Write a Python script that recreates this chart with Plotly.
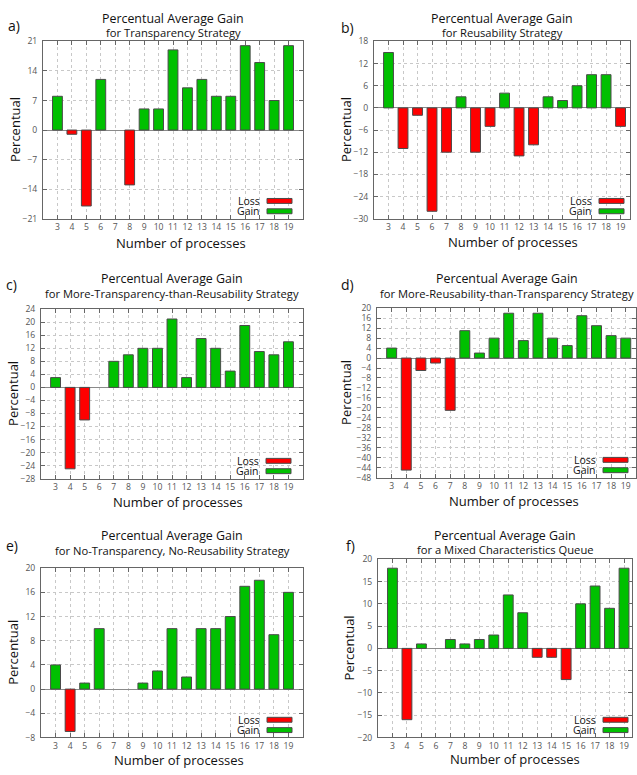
import plotly.graph_objects as go

# ---------------- data ----------------
processes = list(range(3, 20))
tick_labels = [str(p) for p in processes]

gain_transparency = [8, -1, -18, 12, 0, -13, 5, 5, 19, 10, 12, 8, 8, 20, 16, 7, 20]
gain_reusability = [15, -11, -2, -28, -12, 3, -12, -5, 4, -13, -10, 3, 2, 6, 9, 9, -5]
gain_more_transp = [3, -25, -10, 0, 8, 10, 12, 12, 21, 3, 15, 12, 5, 19, 11, 10, 14]
gain_more_reus = [4, -45, -5, -2, -21, 11, 2, 8, 18, 7, 18, 8, 5, 17, 13, 9, 8]
gain_no_no = [4, -7, 1, 10, 0, 0, 1, 3, 10, 2, 10, 10, 12, 17, 18, 9, 16]
gain_mixed = [18, -16, 1, 0, 2, 1, 2, 3, 12, 8, -2, -2, -7, 10, 14, 9, 18]

series_names = ["Loss", "Gain"]

# ---------------- layout helpers ----------------
W, H = 637, 775
FONT = "Open Sans"
RED = "#ff0000"
GREEN = "#00c000"
EDGE = "#4a4a4a"

panels = [
    dict(letter="a)", vals=gain_transparency, box=(43, 36, 303, 216), xr=(2, 20), yr=(-21, 21), dt=7,
         title=["Percentual Average Gain", "for Transparency Strategy"], ty=(13, 27),
         lab=(14, 20), ytx=15, xt=(181, 241), lgap=11),
    dict(letter="b)", vals=gain_reusability, box=(374, 36, 630, 216), xr=(2, 19.65), yr=(-30, 18), dt=6,
         title=["Percentual Average Gain", "for Reusability Strategy"], ty=(13, 27),
         lab=(347, 22), ytx=346, xt=(513, 240), lgap=6),
    dict(letter="c)", vals=gain_more_transp, box=(41, 308, 303, 480), xr=(2, 20), yr=(-28, 24), dt=4,
         title=["Percentual Average Gain", "for More-Transparency-than-Reusability Strategy"], ty=(277, 292),
         lab=(12, 283), ytx=13, xt=(178, 504), lgap=12),
    dict(letter="d)", vals=gain_more_reus, box=(377, 307, 636, 479), xr=(2, 19.7), yr=(-48, 20), dt=4,
         title=["Percentual Average Gain", "for More-Reusability-than-Transparency Strategy"], ty=(277, 292),
         lab=(347, 283), ytx=346, xt=(514, 503), lgap=8),
    dict(letter="e)", vals=gain_no_no, box=(41, 571, 303, 743), xr=(2, 20), yr=(-8, 20), dt=4,
         title=["Percentual Average Gain", "for No-Transparency, No-Reusability Strategy"], ty=(538, 553),
         lab=(12, 548), ytx=13, xt=(179, 766), lgap=11),
    dict(letter="f)", vals=gain_mixed, box=(378, 562, 632, 743), xr=(2, 19.55), yr=(-20, 20), dt=5,
         title=["Percentual Average Gain", "for a Mixed Characteristics Queue"], ty=(538, 552),
         lab=(350, 548), ytx=349, xt=(515, 765), lgap=4),
]
title_sizes = (12.4, 11.2)


def px(x):
    return x / W


def py(y):
    return 1 - y / H


fig = go.Figure()
annotations = []
shapes = []

for i, p in enumerate(panels):
    n = i + 1
    xa = "x" if n == 1 else f"x{n}"
    ya = "y" if n == 1 else f"y{n}"
    vals = p["vals"]
    loss = [v if v < 0 else None for v in vals]
    gain = [v if v > 0 else None for v in vals]
    for name, ys, col in ((series_names[0], loss, RED), (series_names[1], gain, GREEN)):
        fig.add_trace(go.Bar(
            x=processes, y=ys, name=name, xaxis=xa, yaxis=ya, width=0.68,
            marker=dict(color=col, line=dict(color=EDGE, width=1)),
            showlegend=False, hoverinfo="x+y",
        ))

    x0, y0, x1, y1 = p["box"]
    common = dict(showline=True, mirror="allticks", linecolor="#666", linewidth=1,
                  ticks="inside", ticklen=4, tickcolor="#666",
                  showgrid=True, gridcolor="#c8c8c8", griddash="dot", gridwidth=1,
                  tickfont=dict(family=FONT, size=8.6, color="#555"))
    fig.layout[f"xaxis{'' if n == 1 else n}"] = dict(
        domain=[px(x0), px(x1)], anchor=ya, range=list(p["xr"]),
        tickmode="array", tickvals=processes, ticktext=tick_labels,
        zeroline=False, ticklabelstandoff=0, **common)
    fig.layout[f"yaxis{'' if n == 1 else n}"] = dict(
        domain=[py(y1), py(y0)], anchor=xa, range=list(p["yr"]),
        tickmode="linear", tick0=p["yr"][0], dtick=p["dt"],
        zeroline=True, zerolinecolor="#8a8a8a", zerolinewidth=1, ticklabelstandoff=3, **common)

    cx = (x0 + x1) / 2
    for line, yy, fs in zip(p["title"], p["ty"], title_sizes):
        annotations.append(dict(text=line, x=px(cx), y=py(yy), xref="paper", yref="paper",
                                showarrow=False, xanchor="center", yanchor="middle",
                                font=dict(family=FONT, size=fs, color="#111")))
    annotations.append(dict(text=p["letter"], x=px(p["lab"][0]), y=py(p["lab"][1]), xref="paper", yref="paper",
                            showarrow=False, xanchor="center", yanchor="middle",
                            font=dict(family=FONT, size=14, color="#111")))
    annotations.append(dict(text="Percentual", x=px(p["ytx"]), y=py((y0 + y1) / 2), xref="paper", yref="paper",
                            showarrow=False, xanchor="center", yanchor="middle", textangle=-90,
                            font=dict(family=FONT, size=13, color="#111")))
    annotations.append(dict(text="Number of processes", x=px(p["xt"][0]), y=py(p["xt"][1]),
                            xref="paper", yref="paper", showarrow=False, xanchor="center", yanchor="middle",
                            font=dict(family=FONT, size=13, color="#111")))

    # legend (text left of swatch, bottom-right inside the plot)
    sw_r = x1 - p["lgap"]
    sw_l = sw_r - 25
    for name, col, off in ((series_names[0], RED, 18), (series_names[1], GREEN, 7.5)):
        yc = y1 - off
        shapes.append(dict(type="rect", xref="paper", yref="paper",
                           x0=px(sw_l), x1=px(sw_r), y0=py(yc + 2.5), y1=py(yc - 2.5),
                           fillcolor=col, line=dict(color=EDGE, width=1)))
        annotations.append(dict(text=name, x=px(sw_l - 5), y=py(yc), xref="paper", yref="paper",
                                showarrow=False, xanchor="right", yanchor="middle",
                                font=dict(family=FONT, size=10.5, color="#111")))

fig.update_layout(
    width=W, height=H, margin=dict(l=0, r=0, t=0, b=0),
    paper_bgcolor="white", plot_bgcolor="white",
    annotations=annotations, shapes=shapes, barmode="overlay",
)

fig.write_html("out.html", config={"displayModeBar": False},
               post_script="document.body.style.margin='0';document.body.style.overflow='hidden';")
